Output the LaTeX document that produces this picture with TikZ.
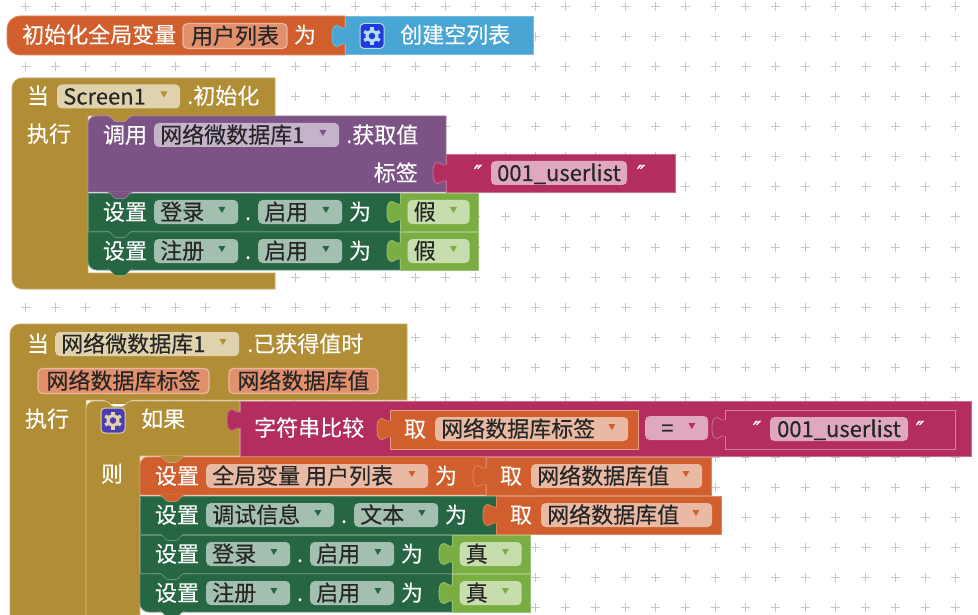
\documentclass[tikz,border=0pt]{standalone}
\usepackage{fontspec}
\setmainfont[FakeBold=0.25]{Noto Sans CJK SC}
\newfontfamily\quotefont[FakeBold=0.6]{DejaVu Sans}
\usepackage{xcolor}
\usetikzlibrary{positioning, calc}
\definecolor{blkorange}{HTML}{D05F2D}
\definecolor{blkblue}{HTML}{49A6D4}
\definecolor{blkgold}{HTML}{B18E35}
\definecolor{blkpurple}{HTML}{7C5385}
\definecolor{blkpink}{HTML}{B32D5E}
\definecolor{blkgreen}{HTML}{266643}
\definecolor{blklime}{HTML}{7AAE42}
\definecolor{fldgold}{HTML}{DFD2AD}
\definecolor{fldpurple}{HTML}{C5B3CB}
\definecolor{fldpink}{HTML}{E0A8BF}
\definecolor{fldgreen}{HTML}{A2BFB0}
\definecolor{fldlime}{HTML}{C8DDAE}
\definecolor{fldorange}{HTML}{EAB9A3}
\definecolor{fldparam}{HTML}{E28F6C}
\definecolor{iconblue}{HTML}{1F3BE0}
\definecolor{iconviolet}{HTML}{4A3DAE}
\newcommand{\blockfont}{\fontsize{22}{24}\selectfont}
\tikzset{
  block/.style={
    rectangle,
    anchor=north west,
    inner sep=0pt,
    outer sep=0pt,
    line width=0.8pt
  },
  orangeblock/.style={fill=blkorange, draw=blkorange!75!white, line width=0.8pt},
  blueblock/.style={fill=blkblue, draw=blkblue!75!white, line width=0.8pt},
  goldblock/.style={fill=blkgold, draw=blkgold!75!white, line width=0.8pt},
  purpleblock/.style={fill=blkpurple, draw=blkpurple!75!white, line width=0.8pt},
  pinkblock/.style={fill=blkpink, draw=blkpink!70!white, line width=0.8pt},
  greenblock/.style={fill=blkgreen, draw=blkgreen!75!white, line width=0.8pt},
  limeblock/.style={fill=blklime, draw=blklime!75!white, line width=0.8pt},
  wlabel/.style={
    font=\blockfont,
    text=white,
    inner sep=0pt,
    text height=20pt,
    text depth=4pt
  },
  dlabel/.style={wlabel, text=black!85},
  fieldbox/.style={
    rectangle,
    rounded corners=4.5pt,
    inner sep=0pt,
    minimum height=24pt
  },
  parambox/.style={
    fieldbox,
    fill=fldparam,
    draw=fldorange,
    line width=1.2pt,
    minimum height=25pt,
    font=\blockfont,
    text=black!85,
    text height=20pt,
    text depth=4pt
  },
  iconbox/.style={
    rectangle,
    rounded corners=4pt,
    line width=1pt,
    minimum width=24pt,
    minimum height=25pt,
    inner sep=0pt
  },
  gridplus/.style={draw=black!22, line width=1pt}
}
% field with a small triangle: name, left, middle y, width, fill, triangle, text
\newcommand{\dropfield}[7]{
  \node (#1) [fieldbox, anchor=west, fill=#5, minimum width=#4] at (#2,#3) {};
  \node (#1_text) [dlabel, anchor=west] at ([xshift=6pt]#1.west) {#7};
  \fill[#6] ([xshift=-20pt,yshift=5pt]#1.east) -- ++(7,0) -- ++(-3.5,6) -- cycle;
}
% puzzle tab on the left edge of a value block: x, middle y, style
\newcommand{\valtab}[3]{
  \path[#3, shift={(#1,#2)}] (1,-8) -- (-3,-8) .. controls (-5,-8) and (-5,-10.5) .. (-8,-10.5)
    .. controls (-12,-10.5) and (-13,-6) .. (-13,0)
    .. controls (-13,6) and (-12,10.5) .. (-8,10.5)
    .. controls (-5,10.5) and (-5,8) .. (-3,8) -- (1,8);
  \fill[#3, draw=none, shift={(#1,#2)}] (1.5,-7.5) rectangle (-1,7.5);
}
% notch under a statement: x of its middle, y, colour
\newcommand{\stmtnotch}[3]{
  \fill[#3, shift={(#1,#2)}] (-13,-1) .. controls (-8,0) and (-7,5.5) .. (-4,5.5) -- (4,5.5)
    .. controls (7,5.5) and (8,0) .. (13,-1) -- cycle;
  \draw[white, opacity=0.3, line width=0.7pt, shift={(#1,#2)}] (-13,-1) .. controls (-8,0) and (-7,5.5) .. (-4,5.5) -- (4,5.5)
    .. controls (7,5.5) and (8,0) .. (13,-1);
}
% gear icon: name, x, y, fill, gear colour
\newcommand{\gearicon}[5]{
  \node (#1) [iconbox, fill=#4, draw=#5] at (#2,#3) {};
  \foreach \ang in {30,90,...,330}
    \draw[#5, line width=3.4pt] (#1.center) ++(\ang:5) -- ++(\ang:4);
  \draw[#5, line width=3pt] (#1.center) circle (5pt);
}
% statement "set enabled": name, x, y, object, value, corner, colour above
\newcommand{\enablerow}[7]{
  \path[greenblock] (#2+312,#3) -- (#2,#3) [#6] -- (#2,#3+38) [sharp corners] -- (#2+312,#3+38) -- cycle;
  \stmtnotch{#2+32}{#3}{#7}
  \node (#1_set) [wlabel] at (#2+37,#3+19) {设置};
  \dropfield{#1_obj}{#2+66}{#3+19}{84pt}{fldgreen}{blkgreen}{#4}
  \node (#1_dot) [wlabel] at (#2+160,#3+19) {.};
  \dropfield{#1_prop}{#2+170}{#3+19}{84pt}{fldgreen}{blkgreen}{启用}
  \node (#1_to) [wlabel] at (#2+272,#3+19) {为};
  \node (#1_val) [block, limeblock, minimum width=78pt, minimum height=38pt] at (#2+312,#3) {};
  \valtab{#2+312}{#3+19}{limeblock}
  \dropfield{#1_valf}{#2+319.5}{#3+19}{62pt}{fldlime}{blklime}{#5}
}
% get variable block: name, x, y
\newcommand{\getblock}[3]{
  \node (#1) [block, orangeblock, minimum width=225pt, minimum height=38pt] at (#2,#3) {};
  \valtab{#2}{#3+19}{orangeblock}
  \node (#1_get) [wlabel] at (#2+25,#3+19) {取};
  \dropfield{#1_var}{#2+45}{#3+19}{171pt}{fldorange}{blkorange}{网络数据库值}
}
\newcommand{\qmark}[3]{
  \node (#1) [wlabel, font=\quotefont\itshape\fontsize{22}{24}\selectfont] at (#2,#3) {″};
}
\begin{document}
\begin{tikzpicture}[x=1pt, y=-1pt]
  \useasboundingbox (0,0) rectangle (978,615);
  \clip (0,0) rectangle (978,615);

  % GRID
  \foreach \gx in {25,55,...,955}
    \foreach \gy in {7,37,...,607}
      \draw[gridplus] (\gx-4.5,\gy) -- (\gx+4.5,\gy) (\gx,\gy-4.5) -- (\gx,\gy+4.5);

  % GLOBAL VARIABLE
  \path[orangeblock] (345,16) [rounded corners=13pt] -- (7,16) -- (7,55) [sharp corners] -- (345,55) -- cycle;
  \node (init_text) [wlabel, anchor=west] at (22,35) {初始化全局变量};
  \node (init_var) [parambox, minimum width=104pt] at (235,36) {用户列表};
  \node (init_to) [wlabel] at (305,35) {为};
  \node (list_block) [block, blueblock, minimum width=188pt, minimum height=38pt] at (345,16) {};
  \valtab{345}{36}{blueblock}
  \gearicon{list_icon}{372}{36}{iconblue}{white!60!blkblue}
  \node (list_text) [wlabel, anchor=west] at (400,35) {创建空列表};

  % SCREEN EVENT
  \path[goldblock] (275,78) [rounded corners=10pt] -- (12,78) -- (12,289) [sharp corners] -- (275,289)
    -- (275,273) -- (88,273) -- (88,116) -- (275,116) -- cycle;
  \node (screen_when) [wlabel] at (38,96) {当};
  \dropfield{screen_obj}{57}{96.5}{123pt}{fldgold}{blkgold}{Screen1}
  \node (screen_init) [wlabel, anchor=west] at (187,96) {.初始化};
  \node (screen_do) [wlabel] at (49,134) {执行};

  \path[purpleblock] (446,116) [rounded corners=8pt] -- (88,116) [sharp corners] -- (88,192) -- (446,192) -- cycle;
  \stmtnotch{120}{116}{blkgold}
  \node (fetch_call) [wlabel] at (125,135) {调用};
  \dropfield{fetch_obj}{154}{135}{185pt}{fldpurple}{blkpurple}{网络微数据库1}
  \node (fetch_get) [wlabel, anchor=west] at (346,135) {.获取值};
  \node (fetch_tag) [wlabel, anchor=east] at (418,173) {标签};
  \node (tag_block) [block, pinkblock, minimum width=229pt, minimum height=38pt] at (446,154) {};
  \valtab{446}{173}{pinkblock}
  \qmark{tag_open}{478}{173}
  \node (tag_field) [fieldbox, fill=fldpink, minimum width=136pt, font=\blockfont, text height=20pt, text depth=4pt, text=black!85] at (559,173) {001\_userlist};
  \qmark{tag_close}{641}{173}

  \enablerow{login}{88}{193}{登录}{假}{sharp corners}{blkpurple}
  \enablerow{signup}{88}{232}{注册}{假}{rounded corners=9pt}{blkgreen}
  \stmtnotch{120}{270}{blkgreen}

  % VALUE EVENT
  \path[goldblock] (407,324) [rounded corners=10pt] -- (10,324) -- (10,640) [sharp corners] -- (86,640)
    -- (86,400) -- (407,400) -- cycle;
  \node (value_when) [wlabel] at (38,344) {当};
  \dropfield{value_obj}{55}{344}{184pt}{fldgold}{blkgold}{网络微数据库1}
  \node (value_got) [wlabel, anchor=west] at (247,344) {.已获得值时};
  \node (value_tag) [parambox, minimum width=171pt] at (123.5,381) {网络数据库标签};
  \node (value_val) [parambox, minimum width=149pt] at (303.5,381) {网络数据库值};
  \node (value_do) [wlabel] at (47,419) {执行};

  % CONDITION
  \fill[blkgold] (105,399) rectangle (131,404);
  \path[goldblock, draw=white!45!blkgold] (240,401) -- (131,401) .. controls (126,402) and (125,406.5) .. (122,406.5)
    -- (114,406.5) .. controls (111,406.5) and (110,402) .. (105,401) [rounded corners=8pt] -- (86,401) [sharp corners] -- (86,640)
    -- (140,640) -- (140,456) -- (240,456) -- cycle;
  \gearicon{cond_icon}{113}{420.5}{iconviolet}{white!60!blkgold}
  \node (cond_if) [wlabel, anchor=west] at (141,419) {如果};
  \node (cond_then) [wlabel] at (112,474) {则};

  \node (cmp_block) [block, pinkblock, minimum width=731pt, minimum height=55pt] at (240,401) {};
  \valtab{240}{420}{pinkblock}
  \node (cmp_text) [wlabel, anchor=west] at (254,428) {字符串比较};
  \node (cmp_get) [block, orangeblock, draw=white!40!blkorange, minimum width=248pt, minimum height=39pt] at (390,410) {};
  \valtab{390}{429}{orangeblock}
  \node (cmp_get_text) [wlabel] at (415,429) {取};
  \dropfield{cmp_var}{435}{429}{193pt}{fldorange}{blkorange}{网络数据库标签}
  \dropfield{cmp_op}{645}{428}{63pt}{fldpink}{blkpink}{\hspace{10pt}=}
  \node (cmp_str) [block, pinkblock, draw=white!40!blkpink, minimum width=230pt, minimum height=39pt] at (725,410) {};
  \valtab{725}{428}{pinkblock}
  \qmark{cmp_open}{757}{429}
  \node (cmp_field) [fieldbox, fill=fldpink, minimum width=138pt, font=\blockfont, text height=20pt, text depth=4pt, text=black!85] at (839,429) {001\_userlist};
  \qmark{cmp_close}{920}{429}

  % STATEMENTS
  \path[orangeblock] (486,457) [rounded corners=8pt] -- (140,457) [sharp corners] -- (140,495) -- (486,495) -- cycle;
  \stmtnotch{172}{457}{blkgold}
  \node (var_set) [wlabel] at (177,476) {设置};
  \dropfield{var_obj}{206}{476}{222pt}{fldorange}{blkorange}{全局变量 用户列表}
  \node (var_to) [wlabel] at (446,476) {为};
  \getblock{var_get}{486}{457}

  \path[greenblock] (496,496) -- (140,496) -- (140,534) -- (496,534) -- cycle;
  \stmtnotch{172}{496}{blkorange}
  \node (debug_set) [wlabel] at (177,515) {设置};
  \dropfield{debug_obj}{206}{515}{128pt}{fldgreen}{blkgreen}{调试信息}
  \node (debug_dot) [wlabel] at (344,515) {.};
  \dropfield{debug_prop}{354}{515}{84pt}{fldgreen}{blkgreen}{文本}
  \node (debug_to) [wlabel] at (456,515) {为};
  \getblock{debug_get}{496}{496}

  \enablerow{login_on}{140}{535}{登录}{真}{sharp corners}{blkgreen}
  \enablerow{signup_on}{140}{574}{注册}{真}{rounded corners=9pt}{blkgreen}
  \stmtnotch{172}{612}{blkgreen}

\end{tikzpicture}
\end{document}
